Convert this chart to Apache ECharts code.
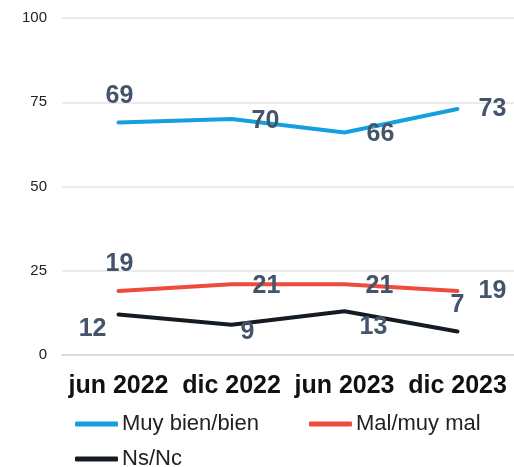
<!DOCTYPE html>
<html>
<head>
<meta charset="utf-8">
<script src="https://cdn.jsdelivr.net/npm/echarts@6/dist/echarts.min.js"></script>
<style>
html,body{margin:0;padding:0;background:#fff;}
#main{width:514px;height:467px;}
</style>
</head>
<body>
<div id="main"></div>
<script>
var periods = ['jun 2022', 'dic 2022', 'jun 2023', 'dic 2023'];
var bien = [69, 70, 66, 73];
var mal = [19, 21, 21, 19];
var nsnc = [12, 9, 13, 7];
var yTicks = [0, 25, 50, 75, 100];

var labelColor = '#44546a';
var font = 'Liberation Sans, Arial, sans-serif';

// label placement per point, the way the original chart has them
function lbl(pos, dist, off){
	return {show: true, position: pos, distance: dist, offset: off || [0, 0]};
}
var bienLbl = [lbl('top', 14, [1, 0]), lbl('right', 20, [0, 2]), lbl('right', 22, [0, 2]), lbl('right', 21)];
var malLbl = [lbl('top', 14, [1, 0]), lbl('right', 21, [0, 2]), lbl('right', 21, [0, 2]), lbl('right', 21)];
var nsLbl = [lbl('left', 12, [0, 15]), lbl('right', 9, [0, 7]), lbl('right', 15, [0, 16]), lbl('top', 14)];

function points(vals, lbls){
	var out = [];
	for (var i = 0; i < vals.length; i++) {
		out.push({value: vals[i], label: lbls[i]});
	}
	return out;
}

function mkSeries(name, vals, lbls, color){
	return {
		name: name,
		type: 'line',
		data: points(vals, lbls),
		symbol: 'circle',
		symbolSize: 0,
		showSymbol: true,
		color: color,
		lineStyle: {width: 4, color: color, cap: 'round'},
		label: {
			show: true,
			color: labelColor,
			fontSize: 25,
			fontWeight: 'bold',
			fontFamily: font
		}
	};
}

var legendText = {fontSize: 22, color: '#222', fontFamily: font, padding: [0, 0, 0, -1]};

var myChart = echarts.init(document.getElementById('main'));
var option = {
	animation: false,
	grid: {left: 62, top: 18, width: 456, bottom: 112, containLabel: false},
	xAxis: {
		type: 'category',
		data: periods,
		boundaryGap: true,
		axisTick: {show: false},
		axisLine: {show: true, lineStyle: {color: '#d0d7e5', width: 1.5}},
		axisLabel: {
			color: '#111',
			fontSize: 25,
			fontWeight: 'bold',
			fontFamily: font,
			margin: 19,
			interval: 0
		}
	},
	yAxis: {
		type: 'value',
		min: yTicks[0],
		max: yTicks[yTicks.length - 1],
		interval: 25,
		axisLine: {show: false},
		axisTick: {show: false},
		splitLine: {lineStyle: {color: '#e4e4e4', width: 1.5}},
		axisLabel: {color: '#222', fontSize: 15, fontFamily: font, margin: 15}
	},
	legend: [{
		data: ['Muy bien/bien', 'Mal/muy mal'],
		left: 75,
		top: 413,
		padding: 0,
		icon: 'roundRect',
		itemWidth: 43,
		itemHeight: 5,
		itemGap: 50,
		textStyle: legendText
	}, {
		data: ['Ns/Nc'],
		left: 75,
		top: 448,
		padding: 0,
		icon: 'roundRect',
		itemWidth: 43,
		itemHeight: 5,
		textStyle: legendText
	}],
	series: [
		mkSeries('Muy bien/bien', bien, bienLbl, '#14a0de'),
		mkSeries('Mal/muy mal', mal, malLbl, '#ee4b3c'),
		mkSeries('Ns/Nc', nsnc, nsLbl, '#141b22')
	]
};
myChart.setOption(option);
</script>
</body>
</html>
